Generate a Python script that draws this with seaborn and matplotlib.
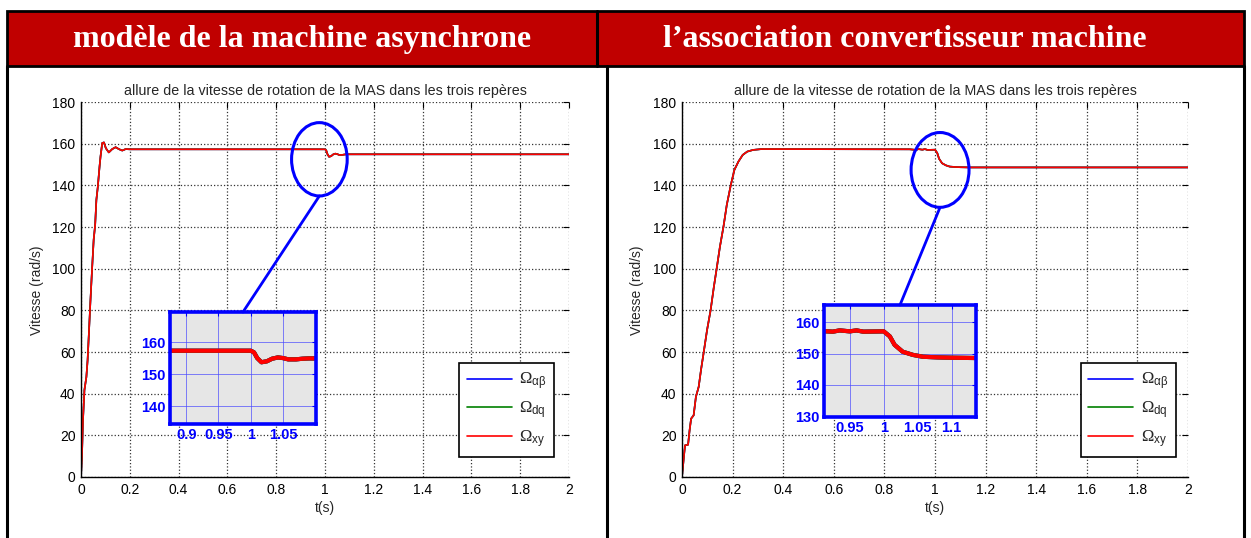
import numpy as np
import pandas as pd
import matplotlib
matplotlib.use("Agg")
import matplotlib.pyplot as plt
from matplotlib.patches import Rectangle, Ellipse, ConnectionPatch
from matplotlib.lines import Line2D
import seaborn as sns

# ---- speed response: induction machine model alone ----
t_model = [0.0, 0.004, 0.008, 0.014, 0.022, 0.027, 0.033, 0.038, 0.045, 0.052,
           0.058, 0.063, 0.069, 0.076, 0.080, 0.087, 0.094, 0.102, 0.114, 0.128,
           0.142, 0.155, 0.169, 0.183, 0.20, 0.60, 1.0, 1.005, 1.010, 1.0166,
           1.025, 1.033, 1.042, 1.050, 1.058, 1.070, 1.080, 1.090, 1.10, 2.0]
w_model = [0.0, 10.4, 27.0, 41.7, 48.0, 56.0, 70.5, 83.0, 99.0, 114.0,
           121.0, 133.0, 139.4, 149.0, 153.8, 160.3, 160.6, 157.8, 155.8, 157.4,
           158.3, 157.4, 156.7, 157.4, 157.3, 157.3, 157.3, 156.8, 155.0, 153.7,
           154.0, 154.8, 155.2, 155.0, 154.6, 154.6, 154.8, 154.9, 154.9, 154.9]

# ---- speed response: converter + machine association ----
t_conv = [0.0, 0.003, 0.008, 0.012, 0.024, 0.030, 0.036, 0.046, 0.055, 0.066,
          0.075, 0.086, 0.099, 0.113, 0.126, 0.137, 0.150, 0.164, 0.177, 0.193,
          0.207, 0.223, 0.240, 0.258, 0.281, 0.314, 0.90, 0.925, 0.935, 0.95,
          0.96, 0.97, 1.0, 1.009, 1.016, 1.028, 1.043, 1.058, 1.08, 1.10, 1.136, 2.0]
w_conv = [0.0, 4.0, 10.4, 15.2, 15.5, 22.4, 28.0, 29.6, 38.5, 43.3,
          51.3, 60.0, 70.5, 80.0, 91.3, 100.0, 110.6, 120.2, 130.6, 140.2,
          147.4, 151.4, 154.6, 156.2, 157.0, 157.4, 157.3, 157.0, 157.4, 157.1,
          157.4, 157.0, 157.1, 155.5, 152.8, 150.6, 149.6, 149.0, 148.8, 148.7, 148.6, 148.6]

series_labels = [r"$\Omega_{\alpha\beta}$", r"$\Omega_{dq}$", r"$\Omega_{xy}$"]
series_colors = ["#0000ff", "#008000", "#ff0000"]

headers = ["modèle de la machine asynchrone", "l\u2019association convertisseur machine"]
title = "allure de la vitesse de rotation de la MAS dans les trois repères"
xticks_main = [0, 0.2, 0.4, 0.6, 0.8, 1, 1.2, 1.4, 1.6, 1.8, 2]
yticks_main = [0, 20, 40, 60, 80, 100, 120, 140, 160, 180]
inset_xticks = [[0.9, 0.95, 1.0, 1.05], [0.95, 1.0, 1.05, 1.1]]
inset_yticks = [[140, 150, 160], [130, 140, 150, 160]]

sns.set_style("white")
plt.rcParams["font.family"] = ["Liberation Sans", "DejaVu Sans"]
plt.rcParams["mathtext.fontset"] = "custom"
plt.rcParams["mathtext.rm"] = "Liberation Serif"
plt.rcParams["mathtext.it"] = "Liberation Sans"

W, H = 1251, 538
fig = plt.figure(figsize=(W / 100, H / 100), dpi=100)


def fx(px):
    return px / W


def fy(py):
    return 1 - py / H


def long_frame(t, w):
    parts = []
    for lab in series_labels:
        parts.append(pd.DataFrame({"t": t, "w": w, "serie": lab}))
    return pd.concat(parts, ignore_index=True)


# ---- table frame with red header row ----
left_b, right_b, top_b, head_b = 7, 1244, 11, 66
fig.add_artist(Rectangle((fx(left_b), fy(head_b)), fx(right_b - left_b), (head_b - top_b) / H,
                         transform=fig.transFigure, facecolor="#c00000",
                         edgecolor="black", lw=2, zorder=0))
for xs, ys in [([fx(597)] * 2, [fy(top_b), fy(head_b)]),
               ([fx(left_b)] * 2, [fy(head_b), 0]),
               ([fx(607)] * 2, [fy(head_b), 0]),
               ([fx(right_b)] * 2, [fy(head_b), 0])]:
    fig.add_artist(Line2D(xs, ys, transform=fig.transFigure, color="black", lw=2.2))

fig.text(fx(302), fy(39.5), headers[0], ha="center", va="center", color="white",
         fontsize=23, fontweight="bold", family="Liberation Serif")
fig.text(fx(905), fy(39.5), headers[1], ha="center", va="center", color="white",
         fontsize=23, fontweight="bold", family="Liberation Serif")

panels = [
    dict(t=t_model, w=w_model, box=(81, 569), inset=(170, 312, 316, 424),
         ixlim=(0.875, 1.101), iylim=(134.4, 169.4), ell=(0.977, 152.5, 0.228, 35.2),
         leg=(0.969, 0.053), ylab_x=37),
    dict(t=t_conv, w=w_conv, box=(682, 1188), inset=(824, 305, 976, 417),
         ixlim=(0.912, 1.136), iylim=(129.8, 165.5), ell=(1.02, 147.4, 0.229, 35.9),
         leg=(0.976, 0.053), ylab_x=637),
]

for k, p in enumerate(panels):
    x0, x1 = p["box"]
    ax = fig.add_axes([fx(x0), fy(477), fx(x1 - x0), (477 - 102) / H])
    df = long_frame(p["t"], p["w"])
    sns.lineplot(data=df, x="t", y="w", hue="serie", palette=series_colors,
                 hue_order=series_labels, estimator=None, sort=False,
                 lw=1.2, ax=ax)
    ax.set_xlim(0, 2)
    ax.set_ylim(0, 180)
    ax.set_xticks(xticks_main)
    ax.set_xticklabels([f"{v:g}" for v in xticks_main])
    ax.set_yticks(yticks_main)
    ax.grid(True, ls=":", color="#333333", lw=0.9)
    for s in ["top", "right"]:
        ax.spines[s].set_visible(False)
    for s in ["left", "bottom"]:
        ax.spines[s].set_color("black")
        ax.spines[s].set_linewidth(1.0)
    ax.tick_params(direction="in", top=True, right=True, length=4, width=0.8,
                   labelsize=10, colors="black", pad=4)
    ax.set_title(title, fontsize=10.3, pad=5)
    ax.set_xlabel("t(s)", fontsize=10, labelpad=3)
    ax.set_ylabel("")
    fig.text(fx(p["ylab_x"]), fy(290), "Vitesse (rad/s)", rotation=90,
             ha="center", va="center", fontsize=10)
    handles, labels = ax.get_legend_handles_labels()
    leg = ax.legend(handles, labels, loc="lower right", bbox_to_anchor=p["leg"],
                    borderaxespad=0, fontsize=12, handlelength=2.7,
                    labelspacing=0.42, borderpad=0.45, handletextpad=0.45,
                    fancybox=False, framealpha=1, edgecolor="black")
    leg.get_frame().set_linewidth(1.2)

    # magnifying ellipse around the load step
    cx, cy, ew, eh = p["ell"]
    ax.add_patch(Ellipse((cx, cy), ew, eh, fill=False, edgecolor="#0000ff",
                         lw=2.2, clip_on=False, zorder=5))

    # zoomed inset on the load step
    ix0, iy0, ix1, iy1 = p["inset"]
    axi = fig.add_axes([fx(ix0), fy(iy1), fx(ix1 - ix0), (iy1 - iy0) / H])
    sns.lineplot(data=df, x="t", y="w", hue="serie", palette=series_colors,
                 hue_order=series_labels, estimator=None, sort=False,
                 lw=3, ax=axi, legend=False)
    axi.set_facecolor("#e6e6e6")
    axi.set_xlim(*p["ixlim"])
    axi.set_ylim(*p["iylim"])
    axi.set_xticks(inset_xticks[k])
    axi.set_xticklabels([f"{v:g}" for v in inset_xticks[k]])
    axi.set_yticks(inset_yticks[k])
    axi.set_xlabel("")
    axi.set_ylabel("")
    axi.grid(True, color="#4a4aff", lw=0.6, alpha=0.8)
    for s in axi.spines.values():
        s.set_color("#0000ff")
        s.set_linewidth(2.6)
    axi.tick_params(direction="in", top=True, right=True, length=3, width=0.8,
                    colors="#0000ff", labelsize=10.5, pad=3)
    for lbl in axi.get_xticklabels() + axi.get_yticklabels():
        lbl.set_fontweight("bold")

    con = ConnectionPatch(xyA=(0.5, 1.0), coordsA=axi.transAxes,
                          xyB=(cx, cy - eh / 2), coordsB=ax.transData,
                          color="#0000ff", lw=2.0)
    fig.add_artist(con)

fig.savefig("out.png", dpi=100)
